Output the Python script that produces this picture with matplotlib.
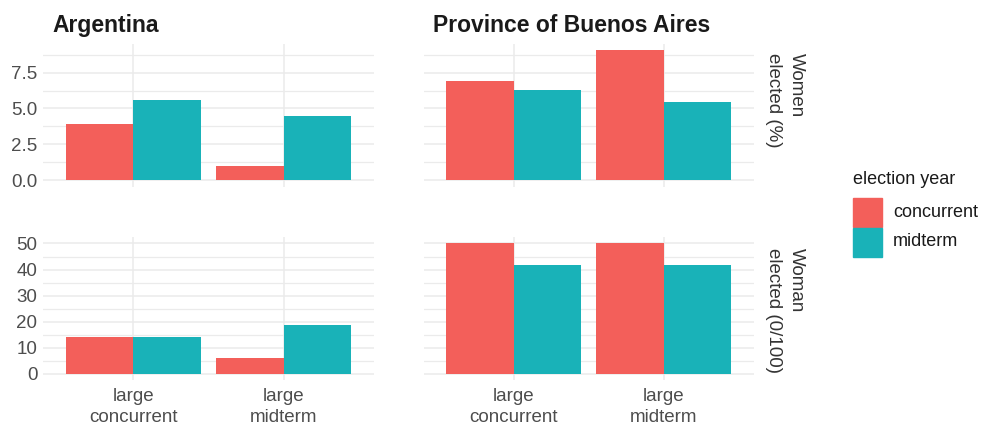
import matplotlib
matplotlib.use("Agg")
import matplotlib.pyplot as plt
from matplotlib.ticker import FixedLocator, NullFormatter
import numpy as np

# ---- data ----
regions = ["Argentina", "Province of Buenos Aires"]
categories = ["large\nconcurrent", "large\nmidterm"]
series = ["concurrent", "midterm"]
row_labels = ["Women\nelected (%)", "Woman\nelected (0/100)"]

pct_argentina_concurrent = [3.9, 1.0]
pct_argentina_midterm = [5.6, 4.5]
pct_ba_concurrent = [6.9, 9.05]
pct_ba_midterm = [6.3, 5.45]

woman_argentina_concurrent = [13.9, 6.0]
woman_argentina_midterm = [13.9, 18.5]
woman_ba_concurrent = [50.0, 50.0]
woman_ba_midterm = [41.7, 41.7]

pct_major = [0, 2.5, 5.0, 7.5]
pct_minor = [1.25, 3.75, 6.25, 8.75]
pct_labels = ["0.0", "2.5", "5.0", "7.5"]
woman_major = [0, 10, 20, 30, 40, 50]
woman_minor = [5, 15, 25, 35, 45]
woman_labels = ["0", "10", "20", "30", "40", "50"]

colors = {"concurrent": "#F35F5A", "midterm": "#19B2B8"}

plt.rcParams["font.family"] = ["Liberation Sans", "DejaVu Sans"]

W, H = 987, 434
fig = plt.figure(figsize=(W / 100, H / 100), dpi=100)


def px_axes(x0, y0, x1, y1):
    return fig.add_axes([x0 / W, 1 - y1 / H, (x1 - x0) / W, (y1 - y0) / H])


col_x = [(43, 374), (424, 754)]
row_y = [(44, 186.5), (237, 380)]

data = [
    [(pct_argentina_concurrent, pct_argentina_midterm), (pct_ba_concurrent, pct_ba_midterm)],
    [(woman_argentina_concurrent, woman_argentina_midterm), (woman_ba_concurrent, woman_ba_midterm)],
]
ticks = [(pct_major, pct_minor, pct_labels), (woman_major, woman_minor, woman_labels)]

grid_col = "#EBEBEB"
text_col = "#4D4D4D"
xpos = np.arange(1, len(categories) + 1)
bw = 0.45

for r in range(2):
    row_max = max(max(v) for pair in data[r] for v in pair)
    lo, hi = -0.05 * row_max, 1.05 * row_max
    major, minor, labels = ticks[r]
    for c in range(2):
        ax = px_axes(col_x[c][0], row_y[r][0], col_x[c][1], row_y[r][1])
        conc, mid = data[r][c]
        ax.bar(xpos - bw / 2, conc, width=bw, color=colors["concurrent"], zorder=3)
        ax.bar(xpos + bw / 2, mid, width=bw, color=colors["midterm"], zorder=3)
        ax.set_xlim(0.4, 2.6)
        ax.set_ylim(lo, hi)
        ax.yaxis.set_major_locator(FixedLocator(major))
        ax.yaxis.set_minor_locator(FixedLocator(minor))
        ax.yaxis.set_minor_formatter(NullFormatter())
        ax.set_xticks(xpos)
        if c == 0:
            ax.set_yticklabels(labels)
        else:
            ax.set_yticklabels([])
        if r == 1:
            ax.set_xticklabels(categories, linespacing=1.25)
        else:
            ax.set_xticklabels([])
        ax.grid(True, which="major", axis="both", color=grid_col, lw=1.1, zorder=0)
        ax.grid(True, which="minor", axis="y", color=grid_col, lw=0.9, zorder=0)
        ax.tick_params(which="both", length=0, labelsize=13.5, colors=text_col, pad=4)
        ax.tick_params(axis="x", pad=6)
        for s in ax.spines.values():
            s.set_visible(False)
        ax.set_facecolor("white")

# column titles
for c, name in enumerate(regions):
    fig.text((col_x[c][0] + 9) / W, 1 - 32 / H, name, fontsize=16.5, fontweight="bold",
             color="#1A1A1A", ha="left", va="baseline")

# row strip labels
for r, lab in enumerate(row_labels):
    fig.text(785 / W, 1 - 53 / H if r == 0 else 1 - 248 / H, lab, rotation=270,
             fontsize=13.5, color="#333333", ha="center", va="top",
             multialignment="left", linespacing=1.45)

# legend
fig.text(853 / W, 1 - 180 / H, "election year", fontsize=13, color="#1A1A1A",
         ha="left", va="center")
for i, s in enumerate(series):
    y0 = 198 + i * 29.5
    fig.patches.append(plt.Rectangle((853 / W, 1 - (y0 + 29) / H), 29 / W, 29 / H,
                                     transform=fig.transFigure, color=colors[s]))
    fig.text(893 / W, 1 - (y0 + 14.5) / H, s, fontsize=13, color="#1A1A1A",
             ha="left", va="center")

fig.savefig("out.png", dpi=100, facecolor="white")
